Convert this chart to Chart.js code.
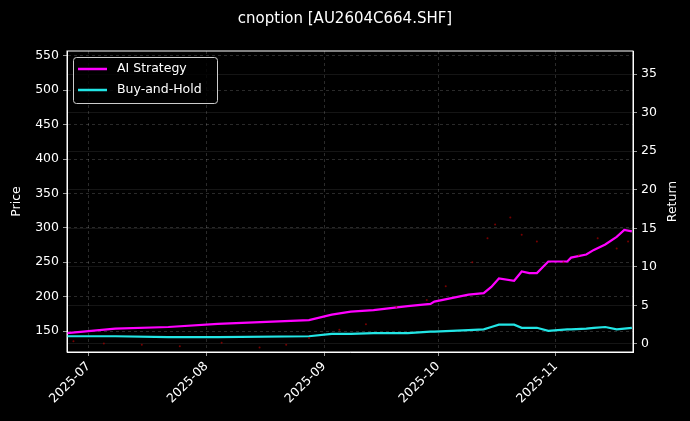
<!DOCTYPE html>
<html>
<head>
<meta charset="utf-8">
<script src="https://cdn.jsdelivr.net/npm/chart.js@4.4.1/dist/chart.umd.min.js"></script>
<style>
  html, body { margin: 0; padding: 0; background: #000; }
  #wrap { width: 690px; height: 421px; }
</style>
</head>
<body>
<div id="wrap"><canvas id="chart"></canvas></div>
<script>
"use strict";

// return series (right axis, %)
const dates = ["2025-06-25","2025-07-08","2025-07-22","2025-08-04","2025-08-28","2025-09-03","2025-09-08",
  "2025-09-14","2025-09-23","2025-09-29","2025-09-30","2025-10-09","2025-10-13","2025-10-15","2025-10-17",
  "2025-10-21","2025-10-23","2025-10-25","2025-10-27","2025-10-30","2025-11-04","2025-11-05","2025-11-09",
  "2025-11-11","2025-11-14","2025-11-17","2025-11-19","2025-11-21"];
const aiStrategy = [1.4,2.0,2.2,2.6,3.1,3.8,4.2,4.4,4.9,5.2,5.5,6.4,6.6,7.4,8.5,8.2,9.4,9.2,9.2,10.7,10.7,11.2,11.6,12.2,12.9,13.9,14.8,14.6];
const buyHold = [1.0,1.0,0.9,0.9,1.0,1.3,1.3,1.4,1.4,1.6,1.6,1.8,1.9,2.2,2.5,2.5,2.1,2.1,2.1,1.7,1.9,1.9,2.0,2.1,2.2,1.9,2.0,2.1];

// option price dots (left axis)
const priceDates = ["2025-06-27","2025-07-05","2025-07-15","2025-07-25","2025-08-05","2025-08-15","2025-08-22",
  "2025-08-28","2025-09-05","2025-09-12","2025-09-20","2025-09-28","2025-10-03","2025-10-10","2025-10-14",
  "2025-10-16","2025-10-20","2025-10-23","2025-10-27","2025-11-03","2025-11-07","2025-11-12","2025-11-17","2025-11-20"];
const prices = [135,132,130,128,133,126,130,140,152,160,185,195,215,250,285,305,315,290,280,250,260,285,270,280];

const monthTicks = ["2025-07-01","2025-08-01","2025-09-01","2025-10-01","2025-11-01"];
const priceTicks = [150,200,250,300,350,400,450,500,550];
const returnTicks = [0,5,10,15,20,25,30,35];

const origin = Date.UTC(2025, 6, 1);
const toDay = s => (Date.parse(s + "T00:00:00Z") - origin) / 86400000;
const dayLabel = d => {
  const t = new Date(origin + d * 86400000);
  return t.getUTCFullYear() + "-" + String(t.getUTCMonth() + 1).padStart(2, "0");
};

const font = { family: "DejaVu Sans", size: 12.5 };
const gridColor = "rgba(255,255,255,0.28)";

const legendBox = {
  id: "legendBox",
  afterDraw(chart) {
    const ctx = chart.ctx;
    const items = chart.data.datasets.filter(d => d.inLegend);
    ctx.save();
    ctx.fillStyle = "rgba(0,0,0,0.8)";
    ctx.strokeStyle = "#cccccc";
    ctx.lineWidth = 1;
    ctx.beginPath();
    ctx.roundRect(73.5, 57.5, 144, 46, 3);
    ctx.fill();
    ctx.stroke();
    ctx.font = "12.5px 'DejaVu Sans'";
    ctx.textBaseline = "middle";
    items.forEach((ds, i) => {
      const y = 69 + i * 21;
      ctx.strokeStyle = ds.borderColor;
      ctx.lineWidth = 2.5;
      ctx.beginPath();
      ctx.moveTo(78, y);
      ctx.lineTo(107, y);
      ctx.stroke();
      ctx.fillStyle = "#ffffff";
      ctx.fillText(ds.label, 117, y);
    });
    ctx.restore();
  }
};

const axisTitles = {
  id: "axisTitles",
  afterDraw(chart) {
    const c = chart.ctx, a = chart.chartArea;
    const mid = (a.top + a.bottom) / 2;
    c.save();
    c.fillStyle = "#ffffff";
    c.font = "12.5px 'DejaVu Sans'";
    c.textAlign = "center";
    c.textBaseline = "middle";
    [["Price", 17], ["Return", 673]].forEach(([t, x]) => {
      c.save(); c.translate(x, mid); c.rotate(-Math.PI / 2); c.fillText(t, 0, 0); c.restore();
    });
    c.restore();
  }
};

new Chart(document.getElementById("chart"), {
  type: "line",
  data: {
    datasets: [
      { label: "Price", data: priceDates.map((d, i) => ({ x: toDay(d), y: prices[i] })), yAxisID: "y",
        showLine: false, pointRadius: 1, pointBackgroundColor: "rgba(170,0,0,0.7)", pointBorderWidth: 0 },
      { label: "AI Strategy", inLegend: true, data: dates.map((d, i) => ({ x: toDay(d), y: aiStrategy[i] })), yAxisID: "y1",
        borderColor: "#ff00ff", borderWidth: 2.2, pointRadius: 0, tension: 0 },
      { label: "Buy-and-Hold", inLegend: true, data: dates.map((d, i) => ({ x: toDay(d), y: buyHold[i] })), yAxisID: "y1",
        borderColor: "#22e5e5", borderWidth: 2.2, pointRadius: 0, tension: 0 }
    ]
  },
  options: {
    responsive: true, maintainAspectRatio: false, animation: false,
    layout: { padding: 0 },
    plugins: {
      legend: { display: false },
      tooltip: { enabled: false },
      title: { display: true, text: "cnoption [AU2604C664.SHF]", color: "#ffffff",
        font: { family: "DejaVu Sans", size: 15, weight: "normal" }, padding: { top: 10, bottom: 23 } }
    },
    scales: {
      x: {
        type: "linear", min: -5.7, max: 143.3,
        afterBuildTicks: axis => { axis.ticks = monthTicks.map(m => ({ value: toDay(m) })); },
        afterFit: axis => { axis.height = 69; },
        ticks: { color: "#ffffff", font, minRotation: 45, maxRotation: 45, callback: v => dayLabel(v) },
        grid: { color: gridColor, lineWidth: 0.6, tickColor: "#ffffff", tickLength: 4 },
        border: { display: true, color: "#ffffff", dash: [3, 3] }
      },
      y: {
        position: "left", min: 119.5, max: 557,
        afterBuildTicks: axis => { axis.ticks = priceTicks.map(v => ({ value: v })); },
        afterFit: axis => { axis.width = 67; },
        ticks: { color: "#ffffff", font, padding: 4 },
        grid: { color: gridColor, lineWidth: 0.6, tickColor: "#ffffff", tickLength: 4 },
        border: { color: "#ffffff", dash: [3, 3] }
      },
      y1: {
        position: "right", min: -1.04, max: 38.0,
        afterBuildTicks: axis => { axis.ticks = returnTicks.map(v => ({ value: v })); },
        afterFit: axis => { axis.width = 57; },
        ticks: { color: "#ffffff", font, padding: 4 },
        grid: { color: "rgba(255,255,255,0.14)", lineWidth: 0.6, tickColor: "#ffffff", tickLength: 4 },
        border: { color: "#ffffff" }
      }
    }
  },
  plugins: [legendBox, axisTitles, {
    id: "frame",
    beforeDraw(chart) {
      const c = chart.ctx;
      c.save(); c.fillStyle = "#000"; c.fillRect(0, 0, chart.width, chart.height); c.restore();
    },
    afterDraw(chart) {
      const a = chart.chartArea, c = chart.ctx;
      c.save(); c.strokeStyle = "#ffffff"; c.lineWidth = 1;
      c.strokeRect(a.left, a.top, a.right - a.left, a.bottom - a.top); c.restore();
    }
  }]
});
</script>
</body>
</html>
